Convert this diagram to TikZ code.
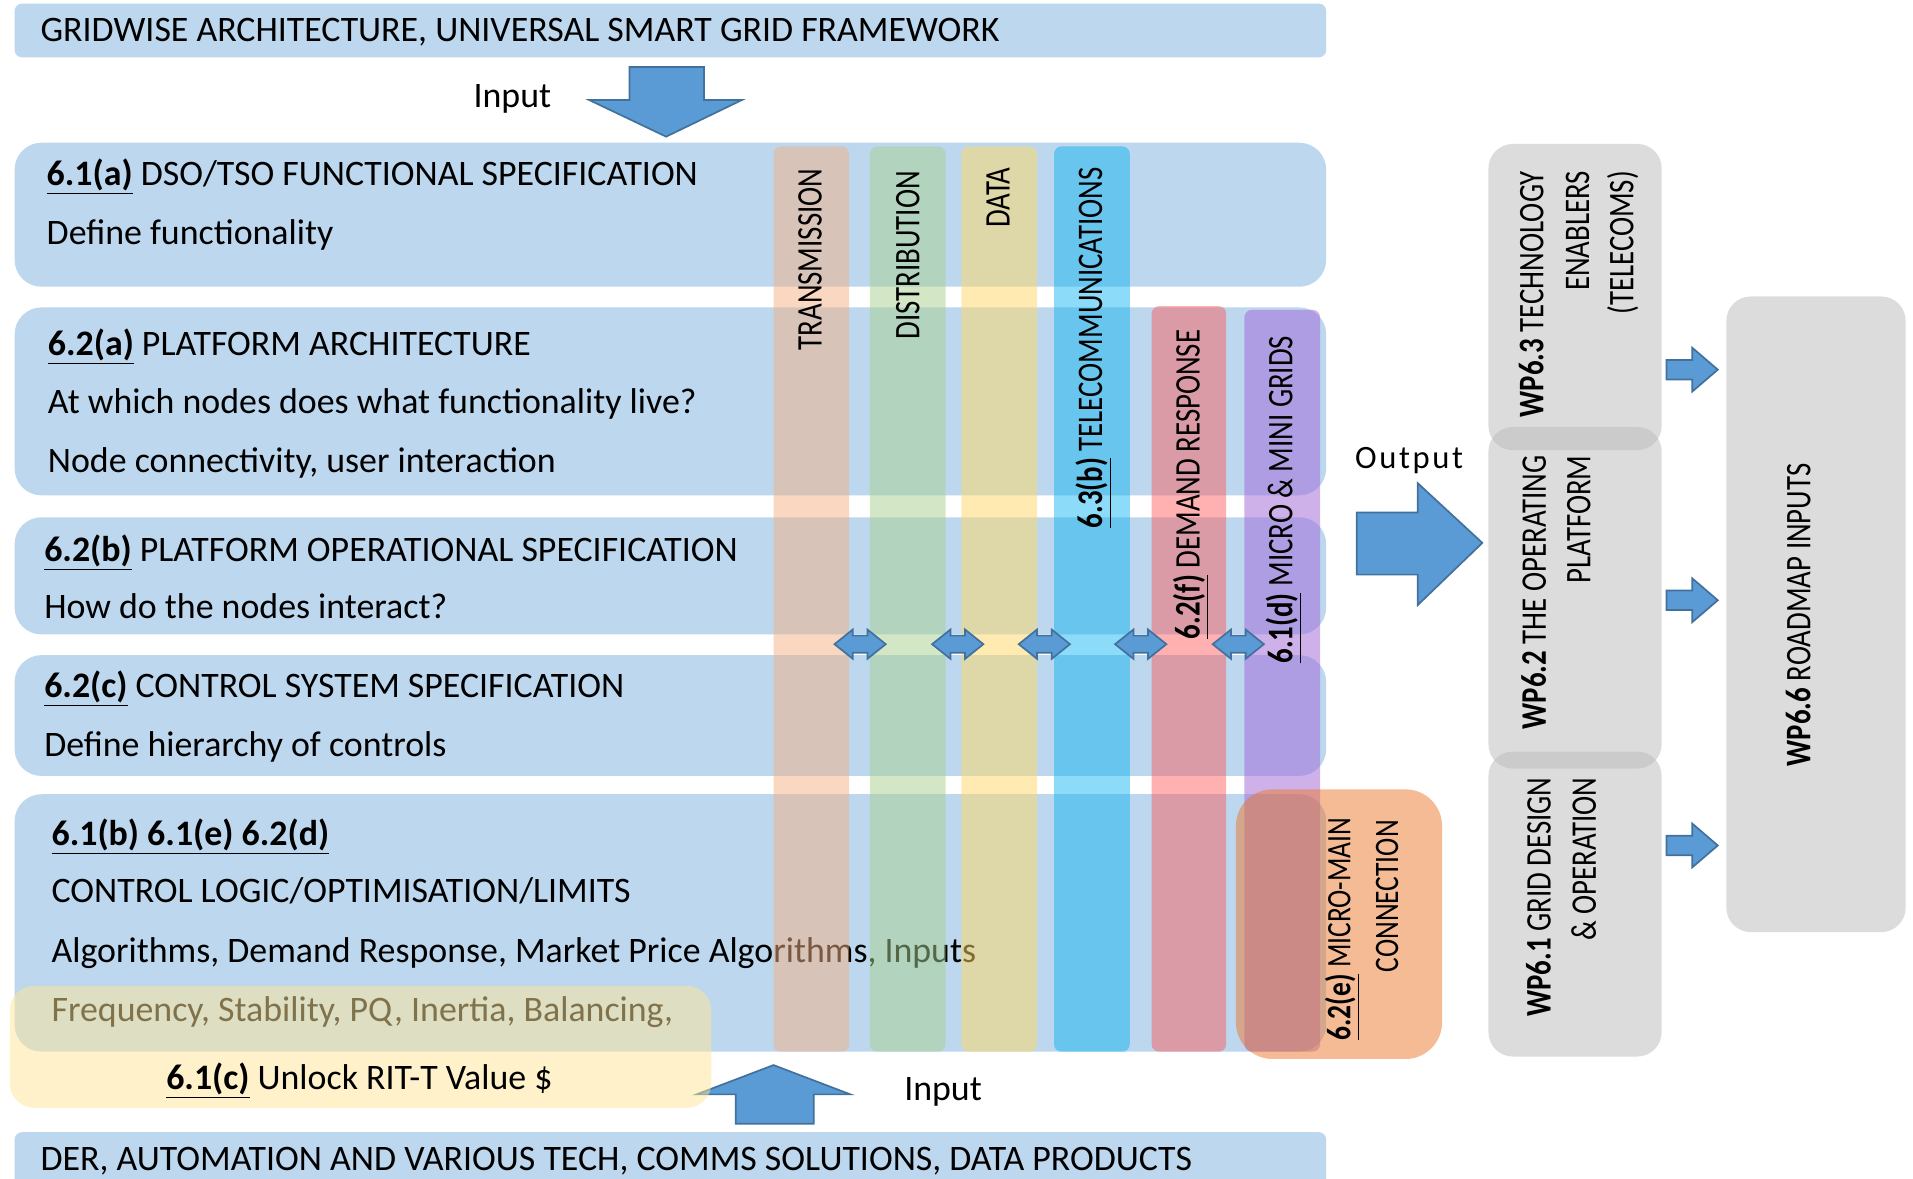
\documentclass[tikz,border=0pt]{standalone}
\usepackage{fontspec}
\setmainfont{Carlito}
\definecolor{rowblue}{RGB}{189,215,238}
\definecolor{arrfill}{RGB}{91,155,213}
\definecolor{arrline}{RGB}{65,113,156}
\definecolor{ctrans}{RGB}{244,177,131}
\definecolor{cdist}{RGB}{169,209,142}
\definecolor{cdata}{RGB}{255,217,102}
\definecolor{ctele}{RGB}{0,176,240}
\definecolor{cdr}{RGB}{255,80,80}
\definecolor{cmicro}{RGB}{160,100,215}
\definecolor{corange}{RGB}{235,120,45}
\definecolor{cyellow}{RGB}{255,230,153}
\definecolor{cgray}{RGB}{187,187,187}
\newcommand{\myulb}[1]{\underline{\textbf{#1}}}
\newcommand{\condtxt}[1]{\scalebox{0.8}[1]{#1}}
\begin{document}
\begin{tikzpicture}[x=0.025cm,y=-0.025cm,
  rowbox/.style={fill=rowblue, rounded corners=0.55cm},
  banner/.style={fill=rowblue, rounded corners=0.15cm},
  rowtxt/.style={anchor=base west, inner sep=0pt, font=\fontsize{20.9}{24}\selectfont},
  colbar/.style={rounded corners=0.15cm, fill opacity=0.5},
  coltxt/.style={rotate=90, anchor=east, inner sep=0pt, font=\fontsize{21}{24}\selectfont},
  blockarrow/.style={fill=arrfill, draw=arrline, line width=1pt, line join=miter},
  graybox/.style={fill=cgray, fill opacity=0.5, rounded corners=0.5cm},
  graytxt/.style={rotate=90, anchor=east, inner sep=0pt, font=\fontsize{21}{24}\selectfont},
]
\fill[white] (0,0) rectangle (1568,966);
\useasboundingbox (0,0) rectangle (1568,966);

% banners
\fill[banner] (12,3) rectangle (1087,47);
\node[rowtxt] (top) at (33,34) {GRIDWISE ARCHITECTURE, UNIVERSAL SMART GRID FRAMEWORK};
\fill[banner] (12,928) rectangle (1087,995);
\node[rowtxt] (bot) at (33,959) {DER, AUTOMATION AND VARIOUS TECH, COMMS SOLUTIONS, DATA PRODUCTS};

% rows
\fill[rowbox] (12,117) rectangle (1087,235);
\fill[rowbox] (12,252) rectangle (1087,406);
\fill[rowbox] (12,424) rectangle (1087,520);
\fill[rowbox] (12,537) rectangle (1087,636);
\fill[rowbox] (12,651) rectangle (1087,862);

\node[rowtxt] (r1a) at (38,152) {\myulb{6.1(a)} DSO/TSO FUNCTIONAL SPECIFICATION};
\node[rowtxt] (r1b) at (38,200) {Define functionality};
\node[rowtxt] (r2a) at (39,291) {\myulb{6.2(a)} PLATFORM ARCHITECTURE};
\node[rowtxt] (r2b) at (39,339) {At which nodes does what functionality live?};
\node[rowtxt] (r2c) at (39,387) {Node connectivity, user interaction};
\node[rowtxt] (r3a) at (36,460) {\myulb{6.2(b)} PLATFORM OPERATIONAL SPECIFICATION};
\node[rowtxt] (r3b) at (36,507) {How do the nodes interact?};
\node[rowtxt] (r4a) at (36,572) {\myulb{6.2(c)} CONTROL SYSTEM SPECIFICATION};
\node[rowtxt] (r4b) at (36,620) {Define hierarchy of controls};
\node[rowtxt] (r5a) at (42,693) {\myulb{6.1(b) 6.1(e) 6.2(d)}};
\node[rowtxt] (r5b) at (42,740) {CONTROL LOGIC/OPTIMISATION/LIMITS};
\node[rowtxt] (r5c) at (42,789) {Algorithms, Demand Response, Market Price Algorithms, Inputs};
\node[rowtxt] (r5d) at (42,837) {Frequency, Stability, PQ, Inertia, Balancing,};

% columns
\fill[colbar, fill=ctrans] (634,120) rectangle (696,862);
\fill[colbar, fill=cdist] (713,120) rectangle (775,862);
\fill[colbar, fill=cdata] (788,120) rectangle (850,862);
\fill[colbar, fill=ctele, fill opacity=0.45] (864,120) rectangle (926,862);
\fill[colbar, fill=cdr, fill opacity=0.45] (944,251) rectangle (1005,862);
\fill[colbar, fill=cmicro] (1020,254) rectangle (1082,862);

\node[coltxt] (c1) at (664,138) {\condtxt{TRANSMISSION}};
\node[coltxt] (c2) at (744,140) {\condtxt{DISTRIBUTION}};
\node[coltxt] (c3) at (818,137) {\condtxt{DATA}};
\node[coltxt] (c4) at (896,137) {\condtxt{\myulb{6.3(b)} TELECOMMUNICATIONS}};
\node[coltxt] (c5) at (976,270) {\condtxt{\myulb{6.2(f)} DEMAND RESPONSE}};
\node[coltxt] (c6) at (1052,275) {\condtxt{\myulb{6.1(d)} MICRO \& MINI GRIDS}};

% double arrows
\foreach \cx in {705,785,856,935,1015}{
  \draw[blockarrow] ({\cx-21},528) -- ({\cx-6},516) -- ({\cx-6},521) -- ({\cx+6},521) -- ({\cx+6},516)
    -- ({\cx+21},528) -- ({\cx+6},540) -- ({\cx+6},535) -- ({\cx-6},535) -- ({\cx-6},540) -- cycle;
}

% orange box
\fill[fill=corange, fill opacity=0.5, rounded corners=0.75cm] (1013,647) rectangle (1182,868);
\node[coltxt, font=\fontsize{20}{24}\selectfont] (o1) at (1100,670) {\condtxt{\myulb{6.2(e)} MICRO-MAIN}};
\node[coltxt, font=\fontsize{20}{24}\selectfont] (o2) at (1137,672) {\condtxt{CONNECTION}};

% input arrows
\draw[blockarrow] (516,55) -- (577,55) -- (577,82) -- (608,82) -- (546,112) -- (483,82) -- (516,82) -- cycle;
\node[rowtxt, anchor=base] (in1) at (420,88) {Input};
\draw[blockarrow] (603,921) -- (667,921) -- (667,897) -- (697,897) -- (634,873) -- (571,897) -- (603,897) -- cycle;
\node[rowtxt, anchor=base] (in2) at (773,902) {Input};

% yellow box
\fill[fill=cyellow, fill opacity=0.5, rounded corners=0.5cm] (8,808) rectangle (583,908);
\node[rowtxt] (y1) at (136,893) {\myulb{6.1(c)} Unlock RIT-T Value \$};

% output arrow
\draw[blockarrow] (1112,420) -- (1162,420) -- (1162,396) -- (1215,445) -- (1162,496) -- (1162,471) -- (1112,471) -- cycle;
\node[rowtxt, anchor=base, font=\fontsize{19}{22}\selectfont\addfontfeatures{LetterSpace=8}] (out) at (1155,384) {Output};

% gray boxes
\fill[graybox] (1220,118) rectangle (1362,369);
\fill[graybox] (1220,350) rectangle (1362,630);
\fill[graybox] (1220,616) rectangle (1362,866);
\fill[graybox] (1415,243) rectangle (1562,764);

\node[graytxt] (g1a) at (1255,140) {\condtxt{\textbf{WP6.3} TECHNOLOGY}};
\node[graytxt] (g1b) at (1293,140) {\condtxt{ENABLERS}};
\node[graytxt] (g1c) at (1330,140) {\condtxt{(TELECOMS)}};
\node[graytxt] (g2a) at (1257,373) {\condtxt{\textbf{WP6.2} THE OPERATING}};
\node[graytxt] (g2b) at (1294,373) {\condtxt{PLATFORM}};
\node[graytxt] (g3a) at (1261,637) {\condtxt{\textbf{WP6.1} GRID DESIGN}};
\node[graytxt] (g3b) at (1298,637) {\condtxt{\& OPERATION}};
\node[graytxt, anchor=center] (g4) at (1474,504) {\condtxt{\textbf{WP6.6} ROADMAP INPUTS}};

% small arrows
\foreach \cy in {303,492,693}{
  \draw[blockarrow] (1366,{\cy-8}) -- (1387,{\cy-8}) -- (1387,{\cy-18}) -- (1408,\cy) -- (1387,{\cy+18}) -- (1387,{\cy+8}) -- (1366,{\cy+8}) -- cycle;
}
\end{tikzpicture}
\end{document}
